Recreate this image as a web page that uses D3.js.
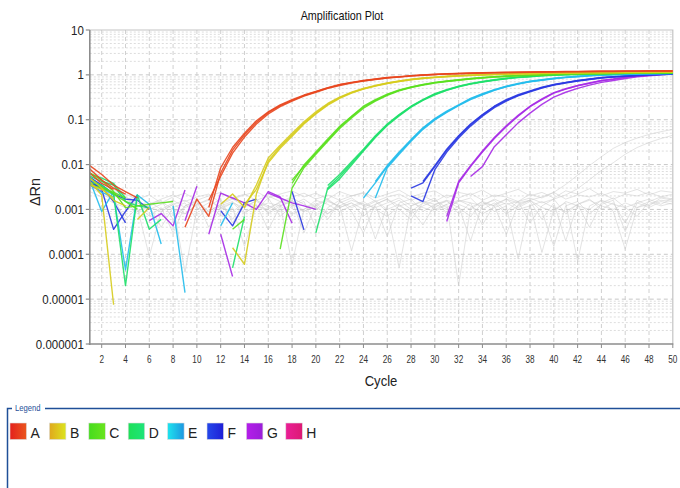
<!DOCTYPE html>
<html><head><meta charset="utf-8">
<script src="https://cdn.jsdelivr.net/npm/d3@7"></script>
<style>
html,body{margin:0;padding:0;background:#fff;}
svg{display:block;}
</style></head>
<body>
<svg id="chart" width="680" height="488"></svg>
<script>
// ---------- DATA ----------
const cycles = [1,2,3,4,5,6,7,8,9,10,11,12,13,14,15,16,17,18,19,20,21,22,23,24,25,26,27,28,29,30,31,32,33,34,35,36,37,38,39,40,41,42,43,44,45,46,47,48,49,50];
const xTickValues = [2,4,6,8,10,12,14,16,18,20,22,24,26,28,30,32,34,36,38,40,42,44,46,48,50];
const yTickValues = [10,1,0.1,0.01,0.001,0.0001,0.00001,0.000001];
const yTickLabels = ["10","1","0.1","0.01","0.001","0.0001","0.00001","0.000001"];
const sampleNames = ["A","B","C","D","E","F","G","H"];
const N = null;

// sample A replicates
const A1 = [0.0095,0.006,0.0035,0.0025,0.0018,N,N,N,0.0004,0.0017,0.0007,0.0065,0.021,0.046,0.088,0.145,0.205,0.27,0.345,0.42,0.51,0.6,0.67,0.74,0.8,0.86,0.9,0.95,0.99,1.02,1.05,1.07,1.09,1.1,1.12,1.13,1.14,1.15,1.16,1.17,1.18,1.18,1.19,1.2,1.2,1.21,1.21,1.22,1.22,1.22];
const A2 = [0.008,0.0045,0.003,0.0022,N,N,N,N,N,N,0.0011,0.0085,0.024,0.05,0.095,0.15,0.215,0.28,0.355,0.43,0.52,0.61,0.68,0.75,0.81,0.87,0.91,0.96,1.0,1.03,1.06,1.08,1.1,1.11,1.13,1.14,1.15,1.16,1.17,1.18,1.19,1.19,1.2,1.21,1.21,1.22,1.22,1.23,1.23,1.23];
const A3 = [0.0065,0.0038,0.0028,N,N,N,N,N,N,N,0.0016,0.0055,0.018,0.041,0.08,0.135,0.195,0.26,0.335,0.41,0.5,0.58,0.66,0.73,0.79,0.85,0.89,0.94,0.98,1.01,1.04,1.06,1.08,1.1,1.11,1.12,1.13,1.14,1.15,1.16,1.17,1.18,1.18,1.19,1.19,1.2,1.2,1.21,1.21,1.21];
// sample B
const B1 = [0.0042,0.0021,0.0000075,N,N,N,N,N,N,N,N,N,0.00014,0.00006,0.0022,0.012,0.025,0.046,0.084,0.14,0.22,0.31,0.4,0.49,0.57,0.65,0.72,0.79,0.84,0.88,0.92,0.95,0.98,1.0,1.02,1.04,1.06,1.07,1.08,1.09,1.1,1.11,1.12,1.12,1.13,1.13,1.14,1.14,1.15,1.15];
const B2 = [0.0035,0.0028,0.0018,N,0.0006,0.0011,N,N,N,N,N,0.0013,0.0022,0.0011,0.0035,0.014,0.027,0.05,0.09,0.15,0.23,0.32,0.41,0.5,0.58,0.66,0.73,0.8,0.85,0.89,0.93,0.96,0.99,1.01,1.03,1.05,1.06,1.07,1.08,1.09,1.1,1.11,1.12,1.13,1.13,1.14,1.14,1.15,1.15,1.16];
const B3 = [0.005,0.003,0.0016,0.0012,N,N,N,N,N,N,N,N,N,0.0013,0.0028,0.011,0.023,0.043,0.08,0.135,0.21,0.3,0.39,0.48,0.56,0.64,0.71,0.78,0.83,0.87,0.91,0.94,0.97,0.99,1.01,1.03,1.05,1.06,1.07,1.08,1.09,1.1,1.11,1.11,1.12,1.12,1.13,1.13,1.14,1.14];
// sample C
const C1 = [0.005,0.0032,0.0022,0.0015,0.001,N,N,N,N,N,N,N,N,N,N,N,N,0.0045,0.0092,0.018,0.035,0.068,0.117,0.19,0.27,0.36,0.45,0.53,0.6,0.67,0.72,0.77,0.82,0.86,0.9,0.93,0.96,0.98,1.0,1.02,1.04,1.05,1.06,1.07,1.08,1.09,1.1,1.1,1.11,1.11];
const C2 = [0.0065,0.0045,0.0025,0.0011,0.0012,0.0013,0.0014,0.0015,N,N,N,N,0.00036,0.0006,N,N,0.00013,0.003,0.0085,0.017,0.033,0.064,0.11,0.18,0.26,0.35,0.44,0.52,0.59,0.66,0.71,0.76,0.81,0.85,0.89,0.92,0.95,0.97,0.99,1.01,1.03,1.04,1.05,1.06,1.07,1.08,1.09,1.1,1.1,1.11];
const C3 = [0.0035,0.003,0.0024,0.0018,N,N,N,N,N,N,N,N,N,N,N,N,N,0.0038,0.0098,0.019,0.037,0.071,0.12,0.2,0.28,0.37,0.46,0.54,0.61,0.68,0.73,0.78,0.83,0.87,0.91,0.94,0.97,0.99,1.01,1.03,1.05,1.06,1.07,1.08,1.09,1.1,1.1,1.11,1.12,1.12];
// sample D
const D1 = [0.004,0.0035,0.0022,0.00002,0.0021,0.00036,0.0006,N,N,N,N,N,0.00005,0.0007,N,N,N,N,N,0.0003,0.003,0.0054,0.0107,0.021,0.042,0.077,0.127,0.196,0.276,0.37,0.46,0.55,0.63,0.7,0.77,0.83,0.88,0.92,0.96,0.99,1.01,1.03,1.05,1.06,1.07,1.08,1.09,1.1,1.1,1.11];
const D2 = [0.0055,0.0042,0.0035,0.0015,0.0012,0.0011,N,N,N,N,N,N,N,N,N,N,N,N,N,N,0.0028,0.0048,0.0098,0.02,0.04,0.074,0.122,0.19,0.27,0.36,0.45,0.54,0.62,0.69,0.76,0.82,0.87,0.91,0.95,0.98,1.0,1.02,1.04,1.05,1.06,1.07,1.08,1.09,1.09,1.1];
const D3 = [0.0062,0.005,0.0038,0.0018,N,N,N,N,N,N,N,N,N,N,N,N,N,N,N,N,0.0034,0.006,0.0115,0.022,0.044,0.08,0.13,0.2,0.28,0.38,0.47,0.56,0.64,0.71,0.78,0.84,0.89,0.93,0.97,1.0,1.02,1.04,1.06,1.07,1.08,1.09,1.1,1.1,1.11,1.11];
// sample E
const E1 = [0.005,0.003,0.0021,0.000045,0.0021,0.0013,0.00017,N,N,N,N,N,N,N,N,N,N,N,N,N,N,N,N,0.0018,0.0039,0.009,0.018,0.035,0.064,0.103,0.15,0.21,0.29,0.37,0.46,0.55,0.63,0.71,0.77,0.83,0.88,0.92,0.96,0.99,1.01,1.03,1.05,1.06,1.07,1.08];
const E2 = [0.0045,0.0009,0.0025,N,N,N,N,0.0012,0.000014,N,N,N,N,N,N,N,N,N,N,N,N,N,N,N,0.0018,0.0085,0.017,0.033,0.061,0.099,0.145,0.205,0.28,0.36,0.45,0.54,0.62,0.7,0.76,0.82,0.87,0.91,0.95,0.98,1.0,1.02,1.04,1.05,1.06,1.07];
const E3 = [0.0038,0.0024,0.0019,N,N,N,N,N,N,N,N,0.00043,0.0014,N,N,N,N,N,N,N,N,N,N,N,0.0042,0.0095,0.019,0.036,0.066,0.106,0.155,0.215,0.3,0.38,0.47,0.56,0.64,0.72,0.78,0.84,0.89,0.93,0.97,1.0,1.02,1.04,1.06,1.07,1.08,1.09];
// sample F
const F1 = [0.0045,0.0028,0.00036,0.0009,0.0021,N,N,N,N,N,N,0.00094,0.00043,0.0014,0.0017,N,N,N,N,N,N,N,N,N,N,N,N,0.003,0.0039,0.009,0.021,0.042,0.077,0.127,0.196,0.27,0.35,0.43,0.52,0.6,0.67,0.74,0.8,0.86,0.9,0.94,0.97,1.0,1.02,1.04];
const F2 = [0.0038,0.0032,0.0015,0.0005,N,N,N,N,N,N,N,N,N,N,N,N,N,0.0025,0.00035,N,N,N,N,N,N,N,N,0.002,0.0015,0.0077,0.019,0.039,0.072,0.12,0.185,0.26,0.34,0.42,0.51,0.59,0.66,0.73,0.79,0.85,0.89,0.93,0.96,0.99,1.01,1.03];
const F3 = [0.0052,0.0035,0.0022,0.0017,0.0016,0.001,N,N,N,N,N,N,N,N,N,N,N,N,N,N,N,N,N,N,N,N,N,N,0.0042,0.0095,0.022,0.044,0.08,0.13,0.2,0.28,0.36,0.44,0.53,0.61,0.68,0.75,0.81,0.87,0.91,0.95,0.98,1.01,1.03,1.05];
// sample G
const G1 = [0.0035,0.0025,N,N,N,0.00056,0.00081,0.00043,0.0027,N,0.00028,0.0023,0.0018,0.0014,0.001,0.0025,0.0019,0.00049,N,N,N,N,N,N,N,N,N,N,N,N,0.00054,0.0039,0.009,0.019,0.038,0.07,0.12,0.196,0.28,0.39,0.48,0.57,0.65,0.74,0.8,0.88,0.93,0.98,1.03,1.07];
const G2 = [0.0028,N,N,N,N,N,N,N,0.00056,0.0033,N,0.00028,0.000032,N,N,0.0023,0.0018,0.0014,0.0012,0.001,N,N,N,N,N,N,N,N,N,N,N,N,0.0054,0.009,0.025,0.046,0.085,0.14,0.22,0.32,0.41,0.5,0.59,0.68,0.75,0.83,0.9,0.95,1.0,1.05];
const G3 = [0.004,0.003,N,N,N,N,N,N,N,N,N,N,N,N,N,N,N,N,N,N,N,N,N,N,N,N,N,N,N,N,0.0007,0.0042,0.0095,0.02,0.04,0.073,0.125,0.2,0.29,0.4,0.49,0.58,0.66,0.75,0.81,0.89,0.94,0.99,1.04,1.08];
// undetermined / background wells (grey)
const grey1 = [0.0062,0.0041,0.0028,0.0019,0.0014,0.0011,0.0009,0.0013,0.0016,0.0011,0.0008,0.0012,0.0015,0.0009,0.0011,0.0014,0.0012,0.0008,0.0010,0.0016,0.0013,0.0009,0.0012,0.0015,0.0010,0.0007,0.0012,0.0014,0.0011,0.0009,0.0013,0.0016,0.0012,0.0008,0.0011,0.0014,0.0010,0.0012,0.0015,0.0011,0.0009,0.0013,0.0016,0.0012,0.0010,0.0014,0.0011,0.0013,0.0016,0.0015];
const grey2 = [0.0045,0.0032,0.0021,0.0015,0.0008,0.0012,0.0004,0.0011,0.0014,0.0006,0.0012,0.0017,0.0005,0.0013,0.0010,0.0018,0.0007,0.0012,0.0015,0.0004,0.0011,0.0016,0.0009,0.0003,0.0013,0.0017,0.0010,0.0006,0.0014,0.0018,0.0008,0.0012,0.0002,0.0013,0.0016,0.0009,0.0015,0.0005,0.0012,0.0017,0.0008,0.0013,0.0004,0.0014,0.0018,0.0011,0.0007,0.0015,0.0019,0.0017];
const grey3 = [0.0078,0.0052,0.0033,0.0022,0.0017,0.0021,0.0014,0.0019,0.0023,0.0016,0.0020,0.0024,0.0017,0.0021,0.0025,0.0018,0.0022,0.0026,0.0019,0.0023,0.0017,0.0025,0.0020,0.0024,0.0018,0.0022,0.0027,0.0019,0.0023,0.0026,0.0018,0.0024,0.0021,0.0027,0.0019,0.0023,0.0028,0.0020,0.0024,0.0018,0.0026,0.0022,0.0029,0.0020,0.0025,0.0023,0.0028,0.0021,0.0026,0.0024];
const grey4 = [0.0036,0.0024,0.0017,0.0006,0.0011,0.00009,0.0009,0.0013,0.00004,0.0010,0.0014,0.0007,0.0011,0.00015,0.0012,0.0009,0.0013,0.00006,0.0010,0.0014,0.0008,0.0012,0.00012,0.0011,0.0015,0.0009,0.00005,0.0012,0.0016,0.0010,0.0013,0.00002,0.0011,0.0015,0.0009,0.0012,0.00008,0.0013,0.00011,0.0010,0.0014,0.00007,0.0012,0.0016,0.0009,0.00013,0.0011,0.0015,0.0012,0.0014];
const grey5 = [0.0025,0.0019,0.0014,0.0011,0.0009,0.0012,0.0015,0.0010,0.0008,0.0013,0.0016,0.0011,0.0009,0.0014,0.0012,0.0010,0.0015,0.0013,0.0009,0.0012,0.0016,0.0011,0.0014,0.0010,0.0013,0.0017,0.0012,0.0009,0.0014,0.0011,0.0016,0.0013,0.0010,0.0015,0.0012,0.0017,0.0014,0.0016,0.0019,0.0024,0.0036,0.0058,0.0095,0.015,0.023,0.031,0.039,0.047,0.054,0.061];
const grey6 = [0.0031,0.0022,0.0016,0.0012,0.0014,0.0010,0.0013,0.0016,0.0011,0.0014,0.0009,0.0013,0.0017,0.0012,0.0015,0.0011,0.0014,0.0018,0.0013,0.0010,0.0015,0.0012,0.0016,0.0013,0.0011,0.0014,0.0018,0.0012,0.0015,0.0013,0.0010,0.0016,0.0014,0.0012,0.0017,0.0013,0.0015,0.0018,0.0014,0.0017,0.0021,0.0029,0.0046,0.0074,0.011,0.017,0.024,0.031,0.038,0.045];
const grey7 = [0.0052,0.0035,0.0024,0.0018,0.0013,0.0007,0.0011,0.0003,0.0012,0.0016,0.0009,0.0013,0.0006,0.0014,0.0017,0.0008,0.0012,0.0015,0.0003,0.0013,0.0017,0.0011,0.0014,0.0007,0.0012,0.00025,0.0014,0.0017,0.0009,0.0013,0.0016,0.0008,0.0014,0.00045,0.0013,0.0017,0.0011,0.0015,0.0006,0.0014,0.0002,0.0013,0.0017,0.0010,0.0014,0.0005,0.0016,0.0012,0.0018,0.0016];
const grey8 = [0.0058,0.0039,0.0026,0.0017,0.0012,0.0015,0.0010,0.0014,0.0008,0.0013,0.0017,0.0010,0.0014,0.0011,0.0016,0.0012,0.0009,0.0013,0.0017,0.0011,0.0008,0.0014,0.0018,0.0012,0.0016,0.0010,0.0013,0.0008,0.0012,0.0016,0.0011,0.0015,0.0018,0.0010,0.0014,0.0008,0.0012,0.0016,0.0011,0.0009,0.0015,0.0012,0.0010,0.0016,0.0013,0.0011,0.0014,0.0017,0.0013,0.0018];
const grey9 = [0.0042,0.0030,0.0020,0.0016,0.0020,0.0013,0.0017,0.0021,0.0015,0.0019,0.0022,0.0014,0.0018,0.0022,0.0016,0.0020,0.0015,0.0019,0.0023,0.0017,0.0021,0.0016,0.0020,0.0023,0.0015,0.0019,0.0022,0.0016,0.0020,0.0015,0.0021,0.0018,0.0023,0.0016,0.0021,0.0019,0.0015,0.0022,0.0018,0.0024,0.0017,0.0021,0.0019,0.0023,0.0017,0.0022,0.0020,0.0024,0.0019,0.0022];
const grey10 = [0.0068,0.0044,0.0029,0.0020,0.0009,0.0013,0.0016,0.0006,0.0012,0.0015,0.0004,0.0011,0.0014,0.0008,0.0013,0.00035,0.0012,0.0016,0.0009,0.0013,0.0006,0.0015,0.0011,0.0014,0.00022,0.0012,0.0016,0.0010,0.00045,0.0013,0.0015,0.0011,0.0007,0.0014,0.0012,0.00028,0.0013,0.0016,0.0009,0.00015,0.0012,0.0015,0.0008,0.0013,0.0016,0.00032,0.0014,0.0011,0.0015,0.0013];

// ---------- STYLE / LAYOUT ----------
const sampleColors = {A:"#e8461e",B:"#d6cc1e",C:"#5ae01e",D:"#1ee06a",E:"#24bcec",F:"#2a38e2",G:"#a62ae6",H:"#e41e8a"};
const swatchGrad = {A:["#e4201c","#ea561e"],B:["#e0a81e","#dce41e"],C:["#46dc1e","#6ae41e"],D:["#1ee058","#1ee47a"],E:["#1ee4ee","#1e96e0"],F:["#2448ea","#1e1ed6"],G:["#b41eea","#9a1ed8"],H:["#ea1e96","#dc1a74"]};
const curves = [
  {s:"G",v:G1},{s:"G",v:G2},{s:"G",v:G3},
  {s:"F",v:F1},{s:"F",v:F2},{s:"F",v:F3},
  {s:"E",v:E1},{s:"E",v:E2},{s:"E",v:E3},
  {s:"D",v:D1},{s:"D",v:D2},{s:"D",v:D3},
  {s:"C",v:C1},{s:"C",v:C2},{s:"C",v:C3},
  {s:"B",v:B1},{s:"B",v:B2},{s:"B",v:B3},
  {s:"A",v:A1},{s:"A",v:A2},{s:"A",v:A3}
];
const greys = [grey1,grey2,grey3,grey4,grey5,grey6,grey7,grey8,grey9,grey10];

const svg = d3.select("#chart");
const L = 89.8, R = 672.8, T = 30, B = 344;
const x = d3.scaleLinear().domain([1,50]).range([L,R]);
const y = d3.scaleLog().domain([0.000001,10]).range([B,T]);

const FONT = "'Liberation Sans',Arial,sans-serif";

svg.append("rect").attr("x",L).attr("y",T).attr("width",R-L).attr("height",B-T).attr("fill","#fff");

// grid
const grid = svg.append("g");
const minorVals = [];
yTickValues.slice(1).forEach(d => { [2,3,4,5,6,7,8,9].forEach(m => minorVals.push(d*m)); });
grid.selectAll("line.minor").data(minorVals).join("line")
  .attr("x1",L).attr("x2",R).attr("y1",d=>y(d)).attr("y2",d=>y(d))
  .attr("stroke","#d4d4d4").attr("stroke-width",0.8).attr("stroke-dasharray","2,2");
grid.selectAll("line.major").data(yTickValues.slice(1,7)).join("line")
  .attr("x1",L).attr("x2",R).attr("y1",d=>y(d)).attr("y2",d=>y(d))
  .attr("stroke","#c8c8c8").attr("stroke-width",1).attr("stroke-dasharray","4,3");
grid.selectAll("line.vx").data(xTickValues.slice(0,-1)).join("line")
  .attr("x1",d=>x(d)).attr("x2",d=>x(d)).attr("y1",T).attr("y2",B)
  .attr("stroke","#d0d0d0").attr("stroke-width",1).attr("stroke-dasharray","4,3");

svg.append("path").attr("d",`M${L},${T}H${R}V${B}`).attr("fill","none").attr("stroke","#c4c4c4").attr("stroke-width",1.2);

const line = d3.line().defined(d => d.v != null).x(d => x(d.c)).y(d => y(d.v));
const toPts = arr => arr.map((v,i) => ({c:cycles[i], v:v}));

svg.append("clipPath").attr("id","clip").append("rect").attr("x",L).attr("y",T).attr("width",R-L).attr("height",B-T);
const plot = svg.append("g").attr("clip-path","url(#clip)");

plot.selectAll("path.grey").data(greys).join("path")
  .attr("d",d=>line(toPts(d))).attr("fill","none")
  .attr("stroke","#cccccc").attr("stroke-opacity",0.55).attr("stroke-width",1);

plot.selectAll("path.curve").data(curves).join("path")
  .attr("d",d=>line(toPts(d.v))).attr("fill","none")
  .attr("stroke",d=>sampleColors[d.s]).attr("stroke-width",1.4).attr("stroke-opacity",0.9)
  .attr("stroke-linejoin","round");

// axes
const yAxis = svg.append("g");
yAxis.append("line").attr("x1",L).attr("x2",L).attr("y1",T).attr("y2",B+1).attr("stroke","#8c8c8c").attr("stroke-width",1.6);
yAxis.selectAll("line.t").data(yTickValues).join("line")
  .attr("x1",L-4).attr("x2",L).attr("y1",d=>y(d)).attr("y2",d=>y(d)).attr("stroke","#8c8c8c").attr("stroke-width",1.2);
yAxis.selectAll("text").data(yTickValues).join("text")
  .attr("transform",d=>`translate(${L-6},${y(d)}) scale(0.92,1)`).attr("dy","0.36em").attr("text-anchor","end")
  .attr("font-family",FONT).attr("font-size",12.5).attr("fill","#222")
  .text((d,i)=>yTickLabels[i]);

const xAxis = svg.append("g");
xAxis.append("line").attr("x1",L-1).attr("x2",R+0.5).attr("y1",B).attr("y2",B).attr("stroke","#8c8c8c").attr("stroke-width",1.6);
xAxis.selectAll("line.t").data(xTickValues).join("line")
  .attr("x1",d=>x(d)).attr("x2",d=>x(d)).attr("y1",B).attr("y2",B+4).attr("stroke","#8c8c8c").attr("stroke-width",1);
xAxis.selectAll("text").data(xTickValues).join("text")
  .attr("transform",d=>`translate(${x(d)},${B+18.5}) scale(0.78,1)`).attr("text-anchor","middle")
  .attr("font-family",FONT).attr("font-size",10.5).attr("fill","#333")
  .text(d=>d);

// titles
svg.append("text").attr("transform","translate(342,20) scale(0.83,1)").attr("text-anchor","middle")
  .attr("font-family",FONT).attr("font-size",13).attr("fill","#111").text("Amplification Plot");
svg.append("text").attr("transform","translate(381,386) scale(0.9,1)").attr("text-anchor","middle")
  .attr("font-family",FONT).attr("font-size",14.5).attr("fill","#222").text("Cycle");
svg.append("text").attr("transform","translate(40,192) rotate(-90)").attr("text-anchor","middle")
  .attr("font-family",FONT).attr("font-size",14.5).attr("fill","#222").text("ΔRn");

// legend
const lg = svg.append("g");
const lc = "#1f4f98";
lg.append("path").attr("d","M7.5,488V408.5H12").attr("fill","none").attr("stroke",lc).attr("stroke-width",1.5);
lg.append("path").attr("d","M45,408.5H680").attr("fill","none").attr("stroke",lc).attr("stroke-width",1.5);
lg.append("text").attr("transform","translate(15,411) scale(0.85,1)").attr("font-family",FONT).attr("font-size",9).attr("fill",lc).text("Legend");
const defs = svg.append("defs");
sampleNames.forEach(s => {
  const g = defs.append("linearGradient").attr("id","g"+s).attr("x1","0%").attr("x2","100%").attr("y1","0%").attr("y2","0%");
  g.append("stop").attr("offset","0%").attr("stop-color",swatchGrad[s][0]);
  g.append("stop").attr("offset","100%").attr("stop-color",swatchGrad[s][1]);
});
const item = lg.selectAll("g.item").data(sampleNames).join("g")
  .attr("transform",(d,i)=>`translate(${10 + i*39.4},423)`);
item.append("rect").attr("width",16.5).attr("height",16.5).attr("fill",d=>`url(#g${d})`)
  .attr("stroke","#ddd").attr("stroke-width",0.6);
item.append("text").attr("transform","translate(20.5,14.5) scale(0.9,1)").attr("font-family",FONT).attr("font-size",15.5).attr("fill","#222").text(d=>d);
</script>
</body></html>
